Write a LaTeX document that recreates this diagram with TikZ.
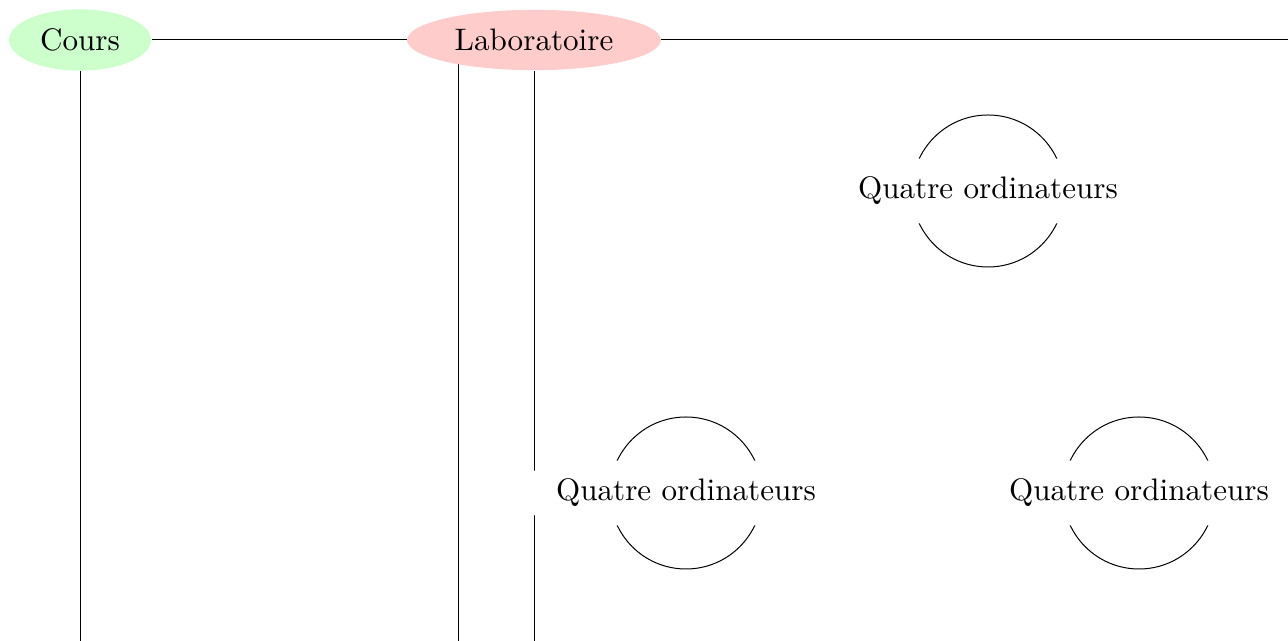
\documentclass[tikz,border=0pt]{standalone}
\usetikzlibrary{shapes.geometric}
\definecolor{coursgreen}{RGB}{204,255,204}
\definecolor{labpink}{RGB}{255,204,204}
\begin{document}
\begin{tikzpicture}[x=0.32143pt,y=-0.32143pt,line width=0.32pt,
  topic/.style={ellipse,inner sep=0.3333em},
  ordi/.style={ellipse,fill=white,inner sep=0.3333em},
  ring/.style={draw}]
\useasboundingbox (0,0) rectangle (1288,641);
\coordinate (labtopA) at (458,40);
\coordinate (labbotA) at (458,641);
\draw (labtopA) -- (labbotA);
\node[topic,fill=coursgreen] (cours) at (80,40) {Cours};
\node[topic,fill=labpink] (lab) at (534,40) {Laboratoire};
\coordinate (right) at (1288,40);
\coordinate (coursbot) at (80,641);
\coordinate (labbotB) at (534,641);
\coordinate (q1c) at (988,191);
\coordinate (q2c) at (686,493);
\coordinate (q3c) at (1139,493);
\draw (cours) -- (lab);
\draw (lab) -- (right);
\draw (cours) -- (coursbot);
\draw (lab.south) -- (labbotB);
\draw[ring] (q1c) circle (76);
\draw[ring] (q2c) circle (76);
\draw[ring] (q3c) circle (76);
\node[ordi] (q1) at (q1c) {Quatre ordinateurs};
\node[ordi] (q2) at (q2c) {Quatre ordinateurs};
\node[ordi] (q3) at (q3c) {Quatre ordinateurs};
\end{tikzpicture}
\end{document}
